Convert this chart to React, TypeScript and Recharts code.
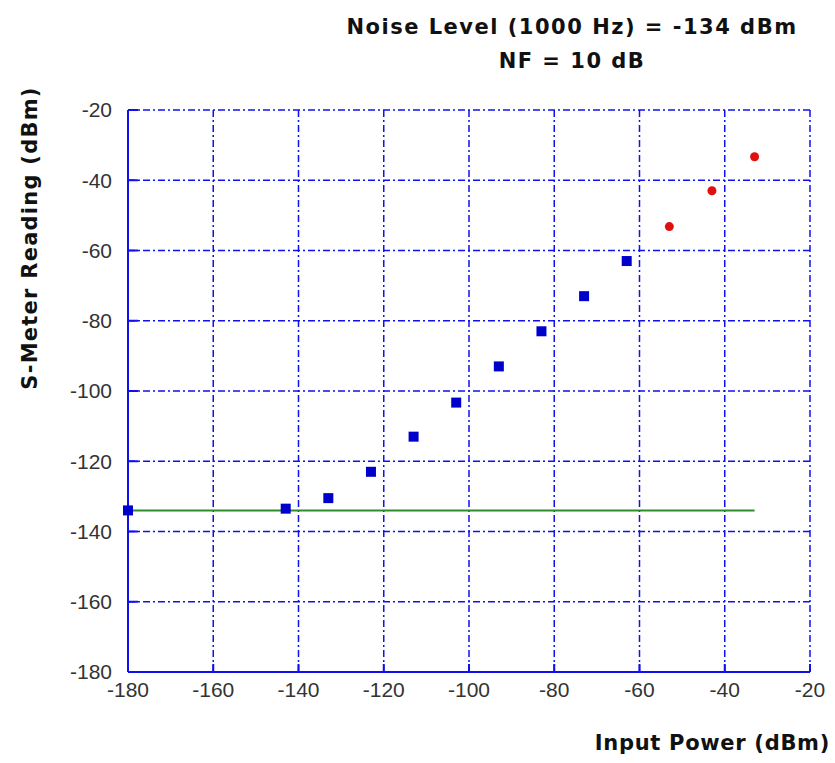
import React from "react";
import { ScatterChart, Scatter, XAxis, YAxis, CartesianGrid } from "recharts";

// measured S-meter readings vs input power
const inputPower = [-180, -143, -133, -123, -113, -103, -93, -83, -73, -63];
const meterReading = [-134, -133.5, -130.5, -123, -113, -103.3, -93, -83, -73, -63];
const overloadInput = [-53, -43, -33];
const overloadReading = [-53.2, -43, -33.3];
const noiseLineX = [-180, -33];
const noiseLevel = -134;
const xTicks = [-180, -160, -140, -120, -100, -80, -60, -40, -20];
const yTicks = [-20, -40, -60, -80, -100, -120, -140, -160, -180];

const measured = inputPower.map((x, i) => ({ x, y: meterReading[i] }));
const overload = overloadInput.map((x, i) => ({ x, y: overloadReading[i] }));
const noiseLine = noiseLineX.map((x) => ({ x, y: noiseLevel }));

const BLUE = "#1010ee";
const tickStyle = { fill: "#333", fontSize: 21, fontFamily: "'Liberation Sans', Arial, sans-serif" };
const labelFont = "'DejaVu Sans', sans-serif";
const axisLine = { stroke: BLUE, strokeWidth: 2 };
const tickLine = { stroke: BLUE, strokeWidth: 2 };
const blank = () => "";

function Square(props: any) {
  const { cx, cy } = props;
  return <rect x={cx - 5} y={cy - 5} width={10} height={10} fill="#0000cc" />;
}

function Dot(props: any) {
  const { cx, cy } = props;
  return <circle cx={cx} cy={cy} r={4.5} fill="#e01010" />;
}

function NoShape() {
  return <g />;
}

export default function App() {
  return (
    <div style={{ position: "absolute", left: 0, top: 0, width: 835, height: 763, background: "#fff" }}>
      <ScatterChart width={835} height={763} margin={{ top: 110, right: 25, bottom: 61, left: 68 }}>
        <CartesianGrid stroke={BLUE} strokeDasharray="7 3 2 3" strokeWidth={1.5} />
        <XAxis
          type="number"
          dataKey="x"
          domain={[-180, -20]}
          ticks={xTicks}
          tick={tickStyle}
          tickLine={tickLine}
          tickSize={-8}
          axisLine={axisLine}
          tickMargin={18}
          height={30}
        />
        <XAxis
          xAxisId="top"
          orientation="top"
          type="number"
          dataKey="x"
          domain={[-180, -20]}
          ticks={xTicks}
          tickFormatter={blank}
          tickLine={tickLine}
          tickSize={-8}
          axisLine={axisLine}
          height={0}
        />
        <YAxis
          type="number"
          dataKey="y"
          domain={[-180, -20]}
          ticks={yTicks}
          tick={tickStyle}
          tickLine={tickLine}
          tickSize={-10}
          axisLine={axisLine}
          tickMargin={26}
          width={60}
        />
        <YAxis
          yAxisId="right"
          orientation="right"
          type="number"
          dataKey="y"
          domain={[-180, -20]}
          ticks={yTicks}
          tickFormatter={blank}
          tickLine={tickLine}
          tickSize={-14}
          axisLine={axisLine}
          width={0}
        />
        <Scatter data={noiseLine} line={{ stroke: "#2e8b2e", strokeWidth: 2 }} shape={<NoShape />} isAnimationActive={false} />
        <Scatter data={measured} shape={<Square />} isAnimationActive={false} />
        <Scatter data={overload} shape={<Dot />} isAnimationActive={false} />
      </ScatterChart>
      <div style={{ position: "absolute", left: 330, width: 484, top: 10, textAlign: "center", fontFamily: labelFont, fontWeight: "bold", fontSize: 21, letterSpacing: 1.5, color: "#111", lineHeight: "34px" }}>
        Noise Level (1000 Hz) = -134 dBm
        <br />
        NF = 10 dB
      </div>
      <div style={{ position: "absolute", left: 30, top: 238, transform: "translate(-50%, -50%) rotate(-90deg)", whiteSpace: "nowrap", fontFamily: labelFont, fontWeight: "bold", fontSize: 21, letterSpacing: 1.25, color: "#111" }}>
        S-Meter Reading (dBm)
      </div>
      <div style={{ position: "absolute", right: 5, top: 731, whiteSpace: "nowrap", fontFamily: labelFont, fontWeight: "bold", fontSize: 21, letterSpacing: 0.7, color: "#111" }}>
        Input Power (dBm)
      </div>
    </div>
  );
}
